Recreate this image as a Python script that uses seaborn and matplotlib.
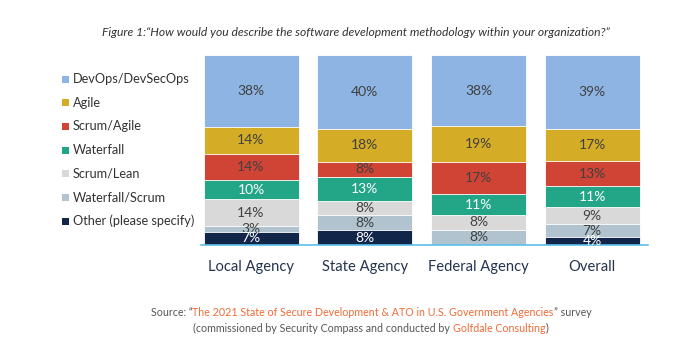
import matplotlib
matplotlib.use("Agg")
import matplotlib.pyplot as plt
from matplotlib.patches import Rectangle
import seaborn as sns
import pandas as pd

# Survey responses (percent of respondents)
agencies = ["Local Agency", "State Agency", "Federal Agency", "Overall"]
methods = ["DevOps/DevSecOps", "Agile", "Scrum/Agile", "Waterfall",
           "Scrum/Lean", "Waterfall/Scrum", "Other (please specify)"]
devops = [38, 40, 38, 39]
agile = [14, 18, 19, 17]
scrum_agile = [14, 8, 17, 13]
waterfall = [10, 13, 11, 11]
scrum_lean = [14, 8, 8, 9]
waterfall_scrum = [3, 8, 8, 7]
other = [7, 8, 0, 4]

series = [devops, agile, scrum_agile, waterfall, scrum_lean, waterfall_scrum, other]
colors = ["#8db4e2", "#d5ac25", "#cf4434", "#23a688", "#d9d9d9", "#b0c3cf", "#12264a"]
label_colors = ["#404040", "#404040", "#404040", "#ffffff", "#404040", "#404040", "#ffffff"]

sns.set_theme(style="white")
plt.rcParams["font.family"] = ["Lato", "DejaVu Sans"]

rows = []
for m, vals in zip(methods, series):
    for a, v in zip(agencies, vals):
        rows.append({"agency": a, "method": m, "value": v})
df = pd.DataFrame(rows)
totals = df.groupby("agency")["value"].transform("sum")
df["share"] = df["value"] / totals * 100

# 100% stacked: first method sits on top, last method at the bottom
order_idx = {m: i for i, m in enumerate(methods)}
df["rank"] = df["method"].map(order_idx)
df["top"] = df.apply(
    lambda r: df[(df["agency"] == r["agency"]) & (df["rank"] >= r["rank"])]["share"].sum(),
    axis=1)

W, H = 680, 347
fig = plt.figure(figsize=(W / 100, H / 100), dpi=100)
ax = fig.add_axes([201 / W, 1 - 245 / H, 447 / W, 190 / H])

for m, c in zip(methods, colors):
    sub = df[df["method"] == m]
    sns.barplot(data=sub, x="agency", y="top", order=agencies, color=c,
                width=0.835, edgecolor="white", linewidth=0.6, ax=ax,
                saturation=1)

for m, lc in zip(methods, label_colors):
    sub = df[df["method"] == m]
    for _, r in sub.iterrows():
        if r["value"] <= 0:
            continue
        xi = agencies.index(r["agency"])
        ax.text(xi, r["top"] - r["share"] / 2, f"{int(r['value'])}%",
                ha="center", va="center", fontsize=10, color=lc)

ax.set_ylim(0, 100)
ax.set_xlim(-0.44, 3.49)
ax.set_xlabel("")
ax.set_ylabel("")
ax.set_yticks([])
for s in ["top", "left", "right"]:
    ax.spines[s].set_visible(False)
ax.spines["bottom"].set_color("#5bc0eb")
ax.spines["bottom"].set_linewidth(1.2)
ax.tick_params(axis="x", length=0, pad=11, labelsize=10.6, labelcolor="#24344f")

# Legend
for i, (m, c) in enumerate(zip(methods, colors)):
    y = 79 + 23.7 * i
    fig.add_artist(Rectangle((62 / W, 1 - (y + 3.5) / H), 7 / W, 7 / H,
                             transform=fig.transFigure, facecolor=c, edgecolor="none"))
    fig.text(73 / W, 1 - y / H, m, ha="left", va="center", fontsize=9.2, color="#333333")

# Title
fig.text(356 / W, 1 - 33 / H,
         "Figure 1:\u201cHow would you describe the software development methodology within your organization?\u201d",
         ha="center", va="center", fontsize=8.75, style="italic", color="#333333")

# Source lines with highlighted titles
gray, orange = "#555555", "#f26a35"
lines = [
    [("Source: \u201c", gray),
     ("The 2021 State of Secure Development & ATO in U.S. Government Agencies", orange),
     ("\u201d survey", gray)],
    [("(commissioned by Security Compass and conducted by ", gray),
     ("Golfdale Consulting", orange),
     (")", gray)],
]
ys = [312, 328]
fig.canvas.draw()
renderer = fig.canvas.get_renderer()
for parts, yp in zip(lines, ys):
    texts = [fig.text(0, 1 - yp / H, s, ha="left", va="center", fontsize=7.7, color=c)
             for s, c in parts]
    widths = [t.get_window_extent(renderer).width for t in texts]
    x = 371 - sum(widths) / 2
    for t, w in zip(texts, widths):
        t.set_x(x / W)
        x += w

fig.savefig("out.png", dpi=100)
